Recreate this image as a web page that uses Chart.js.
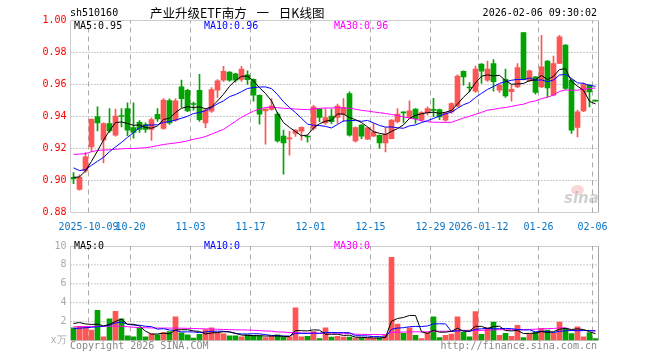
<!DOCTYPE html>
<html>
<head>
<meta charset="utf-8">
<script src="https://cdn.jsdelivr.net/npm/chart.js@4.4.1/dist/chart.umd.min.js"></script>
<style>
  body { margin: 0; background: #fff; width: 660px; height: 360px; overflow: hidden; position: relative;
         font-family: 'DejaVu Sans Mono', monospace; }
  canvas { position: absolute; left: 0; }
  #kline { top: 0; }
  #vol { top: 236px; }
  .t { position: absolute; font-size: 10px; line-height: 12px; white-space: pre; }
</style>
</head>
<body>
<canvas id="kline" width="660" height="236"></canvas>
<canvas id="vol" width="660" height="124"></canvas>

<div class="t" style="left:70px;top:7px;color:#000">sh510160</div>
<div class="t" style="left:150px;top:5px;font-family:'Noto Sans CJK SC',sans-serif;font-size:12.5px;line-height:16px;word-spacing:7px;color:#000">产业升级ETF南方 一 日K线图</div>
<div class="t" style="right:63px;top:7px;color:#000">2026-02-06 09:30:02</div>

<div class="t" style="left:74px;top:20px;color:#000">MA5:0.95</div>
<div class="t" style="left:204px;top:20px;color:#0000ff">MA10:0.96</div>
<div class="t" style="left:334px;top:20px;color:#ff00ff">MA30:0.96</div>

<div class="t" style="left:74px;top:240px;color:#000">MA5:0</div>
<div class="t" style="left:204px;top:240px;color:#0000ff">MA10:0</div>
<div class="t" style="left:334px;top:240px;color:#ff00ff">MA30:0</div>

<div class="t" style="left:70px;top:340px;color:#888">Copyright 2026 SINA.COM</div>
<div class="t" style="right:63px;top:340px;color:#888">http://finance.sina.com.cn</div>

<div style="position:absolute;left:571px;top:185px;width:13px;height:10px;border-radius:50%;background:rgba(240,140,140,0.35)"></div>
<div class="t" style="left:564px;top:191px;font-family:'DejaVu Sans',sans-serif;font-size:15px;line-height:15px;font-weight:bold;font-style:italic;color:rgba(170,170,170,0.55)">sina</div>

<script>
// daily candles, 2025-09-26 .. 2026-02-06 (88 sessions)
const opens  = [0.902,0.8945,0.906,0.921,0.940,0.9252,0.9356,0.9283,0.9405,0.945,
                0.933,0.9364,0.935,0.932,0.9414,0.9325,0.950,0.9377,0.9585,0.9564,
                0.9478,0.9564,0.936,0.9433,0.9564,0.9627,0.9677,0.9666,0.9631,0.966,
                0.9633,0.9533,0.9435,0.9444,0.9415,0.9277,0.926,0.9294,0.9308,0.9275,
                0.9325,0.9446,0.936,0.9402,0.9394,0.9413,0.9544,0.9248,0.9346,0.9258,
                0.9277,0.9283,0.9235,0.9262,0.9367,0.9427,0.9394,0.9446,0.938,0.9423,
                0.9442,0.9444,0.9377,0.9429,0.9465,0.9683,0.958,0.9558,0.9727,0.9627,
                0.9731,0.9565,0.9633,0.9555,0.9585,0.9925,0.9623,0.9648,0.9585,0.9746,
                0.9533,0.9731,0.9846,0.9627,0.9331,0.9435,0.9596,0.950];
const highs  = [0.905,0.9035,0.9175,0.9385,0.946,0.936,0.945,0.9446,0.945,0.9485,
                0.9485,0.9375,0.936,0.939,0.945,0.9512,0.951,0.951,0.9627,0.957,
                0.949,0.9664,0.945,0.958,0.963,0.9714,0.968,0.967,0.9714,0.9685,
                0.9635,0.9535,0.945,0.9512,0.9425,0.9315,0.9308,0.9318,0.9335,0.928,
                0.947,0.945,0.945,0.9446,0.9477,0.9512,0.9554,0.9335,0.935,0.933,
                0.9356,0.9285,0.9331,0.938,0.945,0.9427,0.9498,0.945,0.943,0.946,
                0.9513,0.9446,0.9425,0.9485,0.966,0.9685,0.9612,0.9715,0.973,0.9746,
                0.9756,0.960,0.9696,0.960,0.973,0.9925,0.969,0.965,0.9908,0.975,
                0.9777,0.9908,0.985,0.963,0.944,0.961,0.960,0.9502];
const lows   = [0.898,0.894,0.905,0.918,0.931,0.911,0.930,0.9277,0.9335,0.928,
                0.9265,0.930,0.930,0.925,0.937,0.932,0.935,0.937,0.9456,0.943,
                0.944,0.937,0.933,0.9425,0.952,0.962,0.962,0.9615,0.962,0.960,
                0.9496,0.9352,0.9227,0.944,0.924,0.904,0.9158,0.9275,0.9252,0.924,
                0.9315,0.9367,0.935,0.9355,0.9356,0.9367,0.9277,0.924,0.9262,0.9255,
                0.9275,0.920,0.9179,0.926,0.936,0.936,0.939,0.9356,0.937,0.941,
                0.9398,0.938,0.937,0.942,0.946,0.9596,0.9554,0.955,0.9606,0.962,
                0.9558,0.955,0.952,0.9496,0.958,0.963,0.962,0.954,0.958,0.9523,
                0.953,0.973,0.957,0.9294,0.9273,0.943,0.946,0.9494];
const closes = [0.901,0.902,0.9148,0.9383,0.936,0.9356,0.931,0.9402,0.940,0.9314,
                0.930,0.932,0.932,0.938,0.9385,0.9502,0.936,0.9498,0.9512,0.9435,
                0.9475,0.938,0.944,0.9569,0.9623,0.9683,0.9627,0.9627,0.9696,0.963,
                0.9533,0.9415,0.9446,0.9465,0.9248,0.9235,0.9265,0.9315,0.9333,0.9272,
                0.946,0.9394,0.9394,0.9367,0.9465,0.9456,0.9283,0.9331,0.9277,0.9329,
                0.9304,0.9235,0.929,0.9377,0.9415,0.9423,0.9435,0.9387,0.9425,0.945,
                0.9438,0.9398,0.9423,0.9481,0.9652,0.9648,0.9578,0.9696,0.9683,0.9696,
                0.9617,0.9596,0.9529,0.957,0.9706,0.9631,0.9685,0.955,0.971,0.9579,
                0.9731,0.9898,0.9575,0.9315,0.9429,0.960,0.9554,0.9496];
// volume (x10k)
const volumes = [1.35,1.5,1.5,1.1,3.2,0.4,2.3,3.1,2.3,0.5,
                 0.4,1.35,0.4,0.7,0.6,0.85,0.95,2.5,0.8,0.6,
                 0.25,0.65,1.15,1.35,0.8,0.7,0.5,0.5,0.4,0.6,
                 0.55,0.5,0.3,0.45,0.6,0.35,0.4,3.45,0.4,0.45,
                 0.95,0.2,1.35,0.35,0.45,0.35,0.35,0.25,0.27,0.27,
                 0.23,0.27,0.6,8.8,1.75,0.77,1.35,0.55,0.2,0.85,
                 2.5,0.3,0.55,0.68,2.5,0.87,0.4,3.05,0.65,1.35,
                 1.95,0.55,0.77,0.45,1.6,0.3,0.65,0.87,1.3,1.1,
                 0.75,1.95,1.3,0.72,1.44,0.39,0.84,0.2];

const ma5Lead  = [0.902,0.9022,0.906,0.912];
const ma10Lead = [0.9079,0.9062,0.9068,0.9095,0.912,0.9145,0.918,0.921,0.9238];
const ma30Lead = [0.9163,0.9165,0.9168,0.918,0.9188,0.919,0.9192,0.9195,0.9198,0.92,
                  0.92,0.9202,0.9205,0.921,0.9218,0.9225,0.923,0.9235,0.924,0.9248,
                  0.9258,0.9265,0.9275,0.929,0.9305,0.932,0.9345,0.937,0.9395];
const vma5Lead  = [1.8,1.9,1.75,1.7];
const vma10Lead = [1.25,1.3,1.35,1.4,1.45,1.5,1.65,1.85,1.95];
const vma30Lead = [1.44,1.45,1.46,1.48,1.5,1.51,1.52,1.52,1.5,1.46,
                   1.4,1.37,1.35,1.33,1.32,1.32,1.31,1.31,1.3,1.29,
                   1.27,1.25,1.23,1.21,1.19,1.17,1.15,1.13,1.12];

// x axis labels (session index -> date)
const tickIdx  = [3,10,20,30,40,50,60,68,78,87];
const tickText = ['2025-10-09','10-20','11-03','11-17','12-01','12-15','12-29','2026-01-12','01-26','02-06'];
const priceTicks = [0.88,0.90,0.92,0.94,0.96,0.98,1.00];
const volTicks = [0,2,4,6,8,10];

const RED = '#ff5555', GREEN = '#00a400';
const FONT = {family: 'DejaVu Sans Mono', size: 10};
const X_MIN = -0.5, X_MAX = closes.length - 0.5;

function movingAverage(values, n, lead) {
  return values.map((v, i) => {
    if (i < n - 1) return lead[i];
    let s = 0;
    for (let k = i - n + 1; k <= i; k++) s += values[k];
    return s / n;
  });
}

const isUp = closes.map((c, i) => c >= opens[i]);
const candleColor = c => isUp[c.dataIndex] ? RED : GREEN;
const pts = arr => arr.map((y, i) => ({x: i, y: y}));

function maLine(values, color) {
  return {type: 'line', data: pts(values), borderColor: color, borderWidth: 1,
          pointRadius: 0, tension: 0, fill: false, order: 0};
}

// grid and frame go through the scales as plain line datasets
function guide(data, color, dash, order) {
  return {type: 'line', data: data, borderColor: color, borderWidth: 1, borderDash: dash,
          pointRadius: 0, tension: 0, fill: false, order: order};
}
function gridSets(yTicks) {
  const lo = yTicks[0], hi = yTicks[yTicks.length - 1];
  const verticals = tickIdx.map(i => guide([{x: i - 0.5, y: lo}, {x: i - 0.5, y: hi}], '#aaa', [5, 4], 9));
  const horizontals = yTicks.slice(1, -1).map(v => guide([{x: X_MIN, y: v}, {x: X_MAX, y: v}], '#999', [1, 2], 9));
  const frame = guide([{x: X_MIN, y: hi}, {x: X_MAX, y: hi}, {x: X_MAX, y: lo}, {x: X_MIN, y: lo}, {x: X_MIN, y: hi}],
                      '#999', [], -1);
  return verticals.concat(horizontals, [frame]);
}

function xAxis(showLabels, height) {
  return {
    type: 'linear', bounds: 'data', offset: false, min: X_MIN, max: X_MAX,
    afterBuildTicks: s => { s.ticks = tickIdx.map(i => ({value: i - 0.5})); },
    afterFit: s => { s.height = height; },
    grid: {display: false, offset: false, drawTicks: false},
    border: {display: false},
    ticks: {display: showLabels, autoSkip: false, maxRotation: 0, minRotation: 0,
            padding: 9, color: '#0a74c4', font: FONT, callback: (v, k) => tickText[k]}
  };
}

function yAxis(tickVals, color, fmt) {
  return {
    type: 'linear', bounds: 'data', beginAtZero: false,
    min: tickVals[0], max: tickVals[tickVals.length - 1],
    afterBuildTicks: s => { s.ticks = tickVals.map(v => ({value: v})); },
    afterFit: s => { s.width = 70; },
    grid: {display: false, drawTicks: false},
    border: {display: false},
    ticks: {color: color, font: FONT, padding: 4, callback: fmt}
  };
}

new Chart(document.getElementById('kline'), {
  type: 'bar',
  data: {
    datasets: [
      maLine(movingAverage(closes, 5, ma5Lead), '#000000'),
      maLine(movingAverage(closes, 10, ma10Lead), '#0000ff'),
      maLine(movingAverage(closes, 30, ma30Lead), '#ff00ff'),
      {data: opens.map((o, i) => ({x: i, y: [o, closes[i]]})), backgroundColor: candleColor,
       barThickness: 5, minBarLength: 1, grouped: false, borderWidth: 0, order: 1},
      {data: lows.map((l, i) => ({x: i, y: [l, highs[i]]})), backgroundColor: candleColor,
       barThickness: 1, minBarLength: 1, grouped: false, borderWidth: 0, order: 2}
    ].concat(gridSets(priceTicks))
  },
  options: {
    responsive: false, animation: false, devicePixelRatio: 1, events: [],
    plugins: {legend: {display: false}, tooltip: {enabled: false}},
    layout: {padding: {top: 20.5, right: 61.5, bottom: 0, left: 0.5}},
    scales: {
      x: xAxis(true, 23.5),
      y: yAxis(priceTicks, '#ff0000', v => v.toFixed(2))
    }
  }
});

new Chart(document.getElementById('vol'), {
  type: 'bar',
  data: {
    datasets: [
      maLine(movingAverage(volumes, 5, vma5Lead), '#000000'),
      maLine(movingAverage(volumes, 10, vma10Lead), '#0000ff'),
      maLine(movingAverage(volumes, 30, vma30Lead), '#ff00ff'),
      {data: pts(volumes), backgroundColor: candleColor, barThickness: 5,
       grouped: false, borderWidth: 0, order: 1}
    ].concat(gridSets(volTicks))
  },
  options: {
    responsive: false, animation: false, devicePixelRatio: 1, events: [],
    plugins: {legend: {display: false}, tooltip: {enabled: false}},
    layout: {padding: {top: 4.5, right: 61.5, bottom: 0, left: 0.5}},
    scales: {
      x: xAxis(false, 19.5),
      y: yAxis(volTicks, '#aaa', v => v === 0 ? 'x万' : String(v))
    }
  }
});
</script>
</body>
</html>
